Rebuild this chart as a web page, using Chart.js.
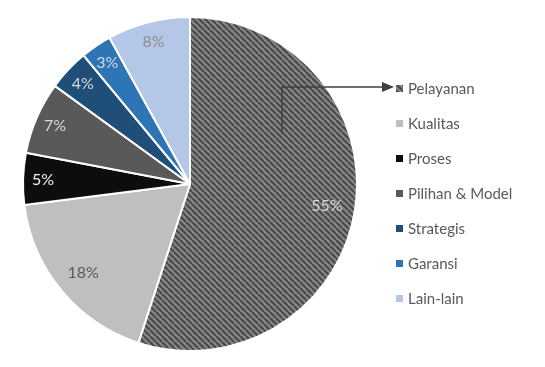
<!DOCTYPE html>
<html>
<head>
<meta charset="utf-8">
<script src="https://cdn.jsdelivr.net/npm/chart.js@4/dist/chart.umd.min.js"></script>
<style>
  html, body { margin:0; padding:0; background:#fff; }
  #wrap { width:545px; height:367px; position:relative; }
</style>
</head>
<body>
<div id="wrap"><canvas id="pie" width="545" height="367"></canvas></div>
<script>
// data
const labels = ['Pelayanan', 'Kualitas', 'Proses', 'Pilihan & Model', 'Strategis', 'Garansi', 'Lain-lain'];
const values = [55, 18, 5, 7, 4, 3, 8];
const colors = [null, '#bfbfbf', '#0d0d0d', '#595959', '#1f4e79', '#2e75b6', '#b4c7e7'];
const labelColors = ['#d9d9d9', '#595959', '#f2f2f2', '#d9d9d9', '#d9d9d9', '#d9d9d9', '#8c8c8c'];

// striped fill for the first slice
function stripes() {
  const c = document.createElement('canvas');
  c.width = 6; c.height = 6;
  const g = c.getContext('2d');
  g.fillStyle = '#868686';
  g.fillRect(0, 0, 6, 6);
  g.strokeStyle = '#474747';
  g.lineWidth = 2;
  for (let k = -6; k <= 12; k += 6) {
    g.beginPath(); g.moveTo(k, 0); g.lineTo(k + 6, 6); g.stroke();
  }
  return g.createPattern(c, 'repeat');
}

const fills = colors.map(c => c || stripes());

const pieExtras = {
  id: 'pieExtras',
  afterDraw(chart) {
    const ctx = chart.ctx;
    const meta = chart.getDatasetMeta(0);
    ctx.save();
    // slice labels
    ctx.font = '16px Lato, "Open Sans", sans-serif';
    ctx.textAlign = 'center';
    ctx.textBaseline = 'middle';
    meta.data.forEach((arc, i) => {
      const mid = (arc.startAngle + arc.endAngle) / 2;
      const r = arc.outerRadius * (values[i] > 10 ? 0.83 : 0.88);
      ctx.fillStyle = labelColors[i];
      ctx.fillText(values[i] + '%', arc.x + Math.cos(mid) * r, arc.y + Math.sin(mid) * r);
    });
    // legend
    ctx.textAlign = 'left';
    ctx.font = '15px Lato, "Open Sans", sans-serif';
    labels.forEach((l, i) => {
      const y = 89 + i * 35;
      ctx.fillStyle = fills[i];
      ctx.fillRect(396, y - 4, 7, 7);
      ctx.fillStyle = '#595959';
      ctx.fillText(l, 408, y);
    });
    // arrow
    ctx.strokeStyle = '#404040';
    ctx.lineWidth = 1.5;
    ctx.beginPath();
    ctx.moveTo(282, 134); ctx.lineTo(282, 87); ctx.lineTo(384, 87);
    ctx.stroke();
    ctx.fillStyle = '#404040';
    ctx.beginPath();
    ctx.moveTo(394, 87); ctx.lineTo(382, 82); ctx.lineTo(382, 92); ctx.closePath();
    ctx.fill();
    ctx.restore();
  }
};

new Chart(document.getElementById('pie'), {
  type: 'pie',
  data: { labels: labels, datasets: [{ data: values, backgroundColor: fills, borderColor: '#ffffff', borderWidth: 2 }] },
  options: {
    responsive: false,
    animation: false,
    layout: { padding: { left: 22, top: 16, right: 187, bottom: 15 } },
    plugins: { legend: { display: false }, tooltip: { enabled: false } }
  },
  plugins: [pieExtras]
});
</script>
</body>
</html>
